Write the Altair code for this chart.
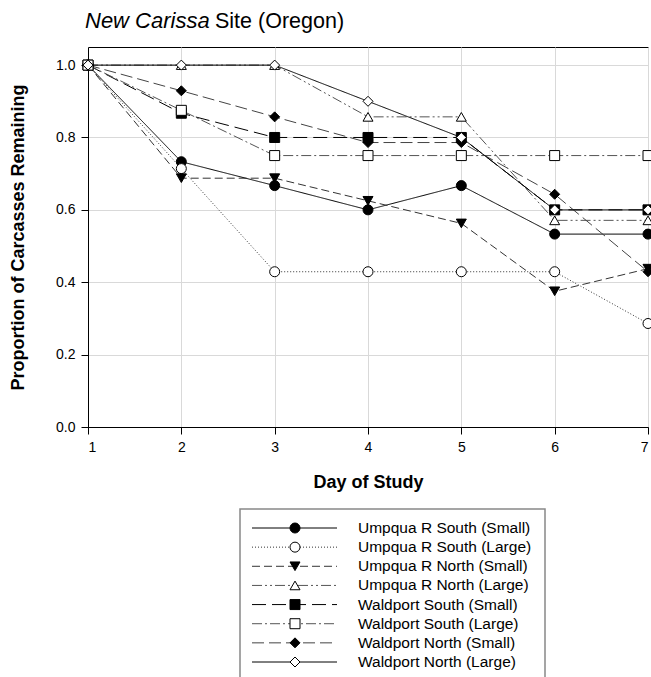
import altair as alt
import pandas as pd

days = [1, 2, 3, 4, 5, 6, 7]
series = [
    "Umpqua R South (Small)", "Umpqua R South (Large)",
    "Umpqua R North (Small)", "Umpqua R North (Large)",
    "Waldport South (Small)", "Waldport South (Large)",
    "Waldport North (Small)", "Waldport North (Large)",
]
ums_small = [1.0, 0.733, 0.667, 0.600, 0.667, 0.533, 0.533]
ums_large = [1.0, 0.714, 0.429, 0.429, 0.429, 0.429, 0.286]
umn_small = [1.0, 0.6875, 0.6875, 0.625, 0.5625, 0.375, 0.4375]
umn_large = [1.0, 1.0, 1.0, 0.857, 0.857, 0.571, 0.571]
ws_small = [1.0, 0.867, 0.8, 0.8, 0.8, 0.6, 0.6]
ws_large = [1.0, 0.875, 0.75, 0.75, 0.75, 0.75, 0.75]
wn_small = [1.0, 0.929, 0.857, 0.786, 0.786, 0.643, 0.429]
wn_large = [1.0, 1.0, 1.0, 0.9, 0.8, 0.6, 0.6]
values = [ums_small, ums_large, umn_small, umn_large, ws_small, ws_large, wn_small, wn_large]

title_italic = "New Carissa"
title_rest = "Site (Oregon)"
x_title = "Day of Study"
y_title = "Proportion of Carcasses Remaining"

rows = []
for s, vals in zip(series, values):
    for d, v in zip(days, vals):
        rows.append({"series": s, "day": d, "prop": v})
df = pd.DataFrame(rows)
leg = pd.DataFrame({"series": series, "idx": list(range(len(series)))})

FONT = "Liberation Sans"
dash_range = [[1, 0], [1, 2], [8, 4], [10, 3, 2, 3, 2, 3], [14, 6], [10, 3, 2, 3], [12, 5], [1, 0]]
shape_range = ["circle", "circle", "triangle-down", "triangle-up", "square", "square", "diamond", "diamond"]
fill_range = ["black", "white", "black", "white", "black", "white", "black", "white"]
size_range = [100, 100, 80, 80, 90, 90, 160, 160]
color_range = ["black", "#333333", "#333333", "#555555", "black", "#555555", "#444444", "black"]

sdash = alt.StrokeDash("series:N", scale=alt.Scale(domain=series, range=dash_range), legend=None)
scolor = alt.Color("series:N", scale=alt.Scale(domain=series, range=color_range), legend=None)
sshape = alt.Shape("series:N", scale=alt.Scale(domain=series, range=shape_range), legend=None)
sfill = alt.Fill("series:N", scale=alt.Scale(domain=series, range=fill_range), legend=None)
ssize = alt.Size("series:N", scale=alt.Scale(domain=series, range=size_range), legend=None)

lines = alt.Chart(df).mark_line(strokeWidth=1).encode(
    x=alt.X("day:Q", scale=alt.Scale(domain=[1, 7], nice=False),
            axis=alt.Axis(values=days, format="d", title=x_title, titlePadding=19, grid=True)),
    y=alt.Y("prop:Q", scale=alt.Scale(domain=[0, 1.05], nice=False, zero=True),
            axis=alt.Axis(values=[0, 0.2, 0.4, 0.6, 0.8, 1.0], format=".1f", title=y_title,
                          titlePadding=28, grid=True)),
    detail="series:N",
    strokeDash=sdash,
    color=scolor,
)

points = alt.Chart(df).mark_point(filled=False, stroke="black", strokeWidth=1, opacity=1).encode(
    x=alt.X("day:Q"),
    y=alt.Y("prop:Q", scale=alt.Scale(domain=[0, 1.05], nice=False), axis=None),
    shape=sshape,
    fill=sfill,
    size=ssize,
)

legy = alt.Y("idx:Q", scale=alt.Scale(domain=[0, 7], range=[481, 615]), axis=None)

leg_box = alt.Chart(pd.DataFrame({"b": [0]})).mark_rect(
    fillOpacity=0, stroke="#888888", strokeWidth=1.5
).encode(x=alt.value(152), x2=alt.value(457), y=alt.value(462), y2=alt.value(720))

leg_lines = alt.Chart(leg).mark_rule(strokeWidth=1).encode(
    x=alt.value(164), x2=alt.value(249), y=legy, strokeDash=sdash, color=scolor,
)
leg_pts = alt.Chart(leg).mark_point(filled=False, stroke="black", strokeWidth=1, opacity=1).encode(
    x=alt.value(207), y=legy, shape=sshape, fill=sfill, size=ssize,
)
leg_text = alt.Chart(leg).mark_text(align="left", baseline="middle", font=FONT, fontSize=15.5,
                                    color="black").encode(
    x=alt.value(270), y=legy, text="series:N",
)

t1 = alt.Chart(pd.DataFrame({"t": [title_italic]})).mark_text(
    align="left", baseline="alphabetic", font=FONT, fontSize=22, fontStyle="italic", color="black"
).encode(x=alt.value(-3), y=alt.value(-19), text="t:N")
t2 = alt.Chart(pd.DataFrame({"t": [title_rest]})).mark_text(
    align="left", baseline="alphabetic", font=FONT, fontSize=21.5, color="black"
).encode(x=alt.value(127), y=alt.value(-19), text="t:N")

chart = alt.layer(
    lines, points, leg_box, leg_lines, leg_pts, leg_text, t1, t2
).resolve_scale(
    y="independent"
).properties(
    width=560, height=380,
    autosize=alt.AutoSizeParams(type="none"),
    padding={"left": 88, "top": 47, "right": 3, "bottom": 250},
    background="white",
).configure_view(
    stroke="black", strokeWidth=1
).configure_axis(
    labelFont=FONT, titleFont=FONT, labelFontSize=14, titleFontSize=18, titleFontWeight="bold",
    labelColor="black", titleColor="black", domainColor="black", tickColor="black",
    tickSize=7, labelPadding=6, gridColor="#d9d9d9", gridWidth=1, domainWidth=1,
)

chart.save("out.html", embed_options={"renderer": "svg", "actions": False})
